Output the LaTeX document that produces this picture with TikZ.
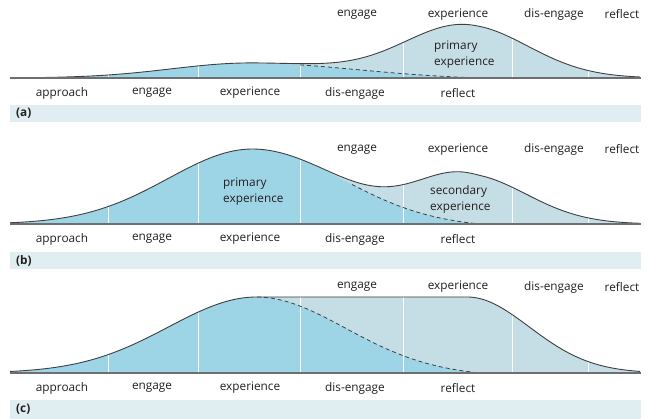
\documentclass[tikz,border=0pt]{standalone}
\usepackage{fontspec}
\setmainfont{Open Sans}
\definecolor{bluefill}{HTML}{9DD5E6}
\definecolor{lightfill}{HTML}{C5DDE5}
\definecolor{barfill}{HTML}{E0EEF2}
\definecolor{outl}{HTML}{3F4042}
\definecolor{basel}{HTML}{6E6F72}
\definecolor{txt}{HTML}{231F20}
\begin{document}
\begin{tikzpicture}[x=1pt,y=-1pt,
  declare function={
    gs(\t,\m,\sl,\sr) = exp(-min(40,((\t-\m)/((\t<\m)*\sl+(\t>=\m)*\sr))^2));
    bl(\t,\m,\sl,\sr,\e) = max(0, gs(\t,\m,\sl,\sr) - \e*max(0,\t-\m)/(480-\m));
  },
  outline/.style={draw=outl, line width=0.9pt},
  dashline/.style={draw=outl, line width=0.8pt, dash pattern=on 4pt off 3pt},
  baseln/.style={draw=basel, line width=1.4pt},
  divider/.style={draw=white, line width=0.9pt},
  lbl/.style={text=txt, font=\fontsize{11.8}{13}\selectfont, inner sep=0pt},
  inlbl/.style={text=txt, font=\fontsize{11.8}{16}\selectfont, inner sep=0pt, align=left, anchor=west},
  tag/.style={text=txt, font=\fontsize{11.8}{13}\selectfont\bfseries, inner sep=0pt, anchor=west},
  bar/.style={fill=barfill},
]
\useasboundingbox (0,0) rectangle (650,419);

% ================= panel (a) =================
\fill[lightfill] plot[domain=10:640,samples=200] (\x,{78-15*bl(\x,250,112,150,0.0953)-53*gs(\x,465,85,88)}) -- (640,78) -- (10,78) -- cycle;
\begin{scope}
  \clip plot[domain=10:640,samples=200] (\x,{78-15*bl(\x,250,112,150,0.0953)-53*gs(\x,465,85,88)}) -- (640,78) -- (10,78) -- cycle;
  \fill[bluefill] plot[domain=10:480,samples=160] (\x,{78-15*bl(\x,250,112,150,0.0953)}) -- (480,78) -- (10,78) -- cycle;
  \foreach \v in {108,198,300,403,512,588} \draw[divider] (\v,79) -- (\v,0);
\end{scope}
\draw[dashline] plot[domain=300:480,samples=80] (\x,{78-15*bl(\x,250,112,150,0.0953)});
\draw[outline] plot[domain=10:640,samples=200] (\x,{78-15*bl(\x,250,112,150,0.0953)-53*gs(\x,465,85,88)});
\draw[baseln] (10,78) -- (641,78);
\fill[bar] (10,105) rectangle (641,122.5);
\node[tag] (ta) at (16,113.5) {(a)};
\node[lbl] (a1) at (62,93) {approach};
\node[lbl] (a2) at (152,93) {engage};
\node[lbl] (a3) at (250,93) {experience};
\node[lbl] (a4) at (355,93) {dis-engage};
\node[lbl] (a5) at (458,93) {reflect};
\node[lbl] (a6) at (357,14.5) {engage};
\node[lbl] (a7) at (458,14.5) {experience};
\node[lbl] (a8) at (554,14.5) {dis-engage};
\node[lbl] (a9) at (622,14.5) {reflect};
\node[inlbl] (ap) at (434,55) {primary\\experience};

% ================= panel (b) =================
\fill[lightfill] plot[domain=10:640,samples=200] (\x,{224-75*bl(\x,253,120,127,0.041)-50*gs(\x,465,70,85)}) -- (640,224) -- (10,224) -- cycle;
\begin{scope}
  \clip plot[domain=10:640,samples=200] (\x,{224-75*bl(\x,253,120,127,0.041)-50*gs(\x,465,70,85)}) -- (640,224) -- (10,224) -- cycle;
  \fill[bluefill] plot[domain=10:480,samples=160] (\x,{224-75*bl(\x,253,120,127,0.041)}) -- (480,224) -- (10,224) -- cycle;
  \foreach \v in {108,198,300,403,512,588} \draw[divider] (\v,225) -- (\v,130);
\end{scope}
\draw[dashline] plot[domain=352:480,samples=70] (\x,{224-75*bl(\x,253,120,127,0.041)});
\draw[outline] plot[domain=10:640,samples=200] (\x,{224-75*bl(\x,253,120,127,0.041)-50*gs(\x,465,70,85)});
\draw[baseln] (10,224) -- (641,224);
\fill[bar] (10,252) rectangle (641,269.5);
\node[tag] (tb) at (16,261) {(b)};
\node[lbl] (b1) at (62,239) {approach};
\node[lbl] (b2) at (152,239) {engage};
\node[lbl] (b3) at (250,239) {experience};
\node[lbl] (b4) at (355,239) {dis-engage};
\node[lbl] (b5) at (458,239) {reflect};
\node[lbl] (b6) at (357,149.5) {engage};
\node[lbl] (b7) at (458,149.5) {experience};
\node[lbl] (b8) at (554,149.5) {dis-engage};
\node[lbl] (b9) at (622,149.5) {reflect};
\node[inlbl] (bp) at (223,191.5) {primary\\experience};
\node[inlbl] (bs) at (430,199) {secondary\\experience};

% ================= panel (c) =================
\fill[lightfill] plot[domain=10:257,samples=120] (\x,{373-76*gs(\x,257,125,125)}) -- (467,297) -- plot[domain=467:640,samples=100] (\x,{373-76*gs(\x,467,88,88)}) -- (640,373) -- (10,373) -- cycle;
\begin{scope}
  \clip plot[domain=10:257,samples=120] (\x,{373-76*gs(\x,257,125,125)}) -- (467,297) -- plot[domain=467:640,samples=100] (\x,{373-76*gs(\x,467,88,88)}) -- (640,373) -- (10,373) -- cycle;
  \fill[bluefill] plot[domain=10:480,samples=160] (\x,{373-76*bl(\x,257,125,125,0.0415)}) -- (480,373) -- (10,373) -- cycle;
  \foreach \v in {108,198,300,403,512,588} \draw[divider] (\v,374) -- (\v,280);
\end{scope}
\draw[dashline] plot[domain=257:480,samples=100] (\x,{373-76*bl(\x,257,125,125,0.0415)});
\draw[outline] plot[domain=10:257,samples=120] (\x,{373-76*gs(\x,257,125,125)}) -- (467,297) -- plot[domain=467:640,samples=100] (\x,{373-76*gs(\x,467,88,88)});
\draw[baseln] (10,373) -- (641,373);
\fill[bar] (10,400) rectangle (641,418.5);
\node[tag] (tc) at (16,409) {(c)};
\node[lbl] (c1) at (62,388) {approach};
\node[lbl] (c2) at (152,388) {engage};
\node[lbl] (c3) at (250,388) {experience};
\node[lbl] (c4) at (355,388) {dis-engage};
\node[lbl] (c5) at (458,388) {reflect};
\node[lbl] (c6) at (357,287) {engage};
\node[lbl] (c7) at (458,287) {experience};
\node[lbl] (c8) at (554,287) {dis-engage};
\node[lbl] (c9) at (622,287) {reflect};
\end{tikzpicture}
\end{document}
